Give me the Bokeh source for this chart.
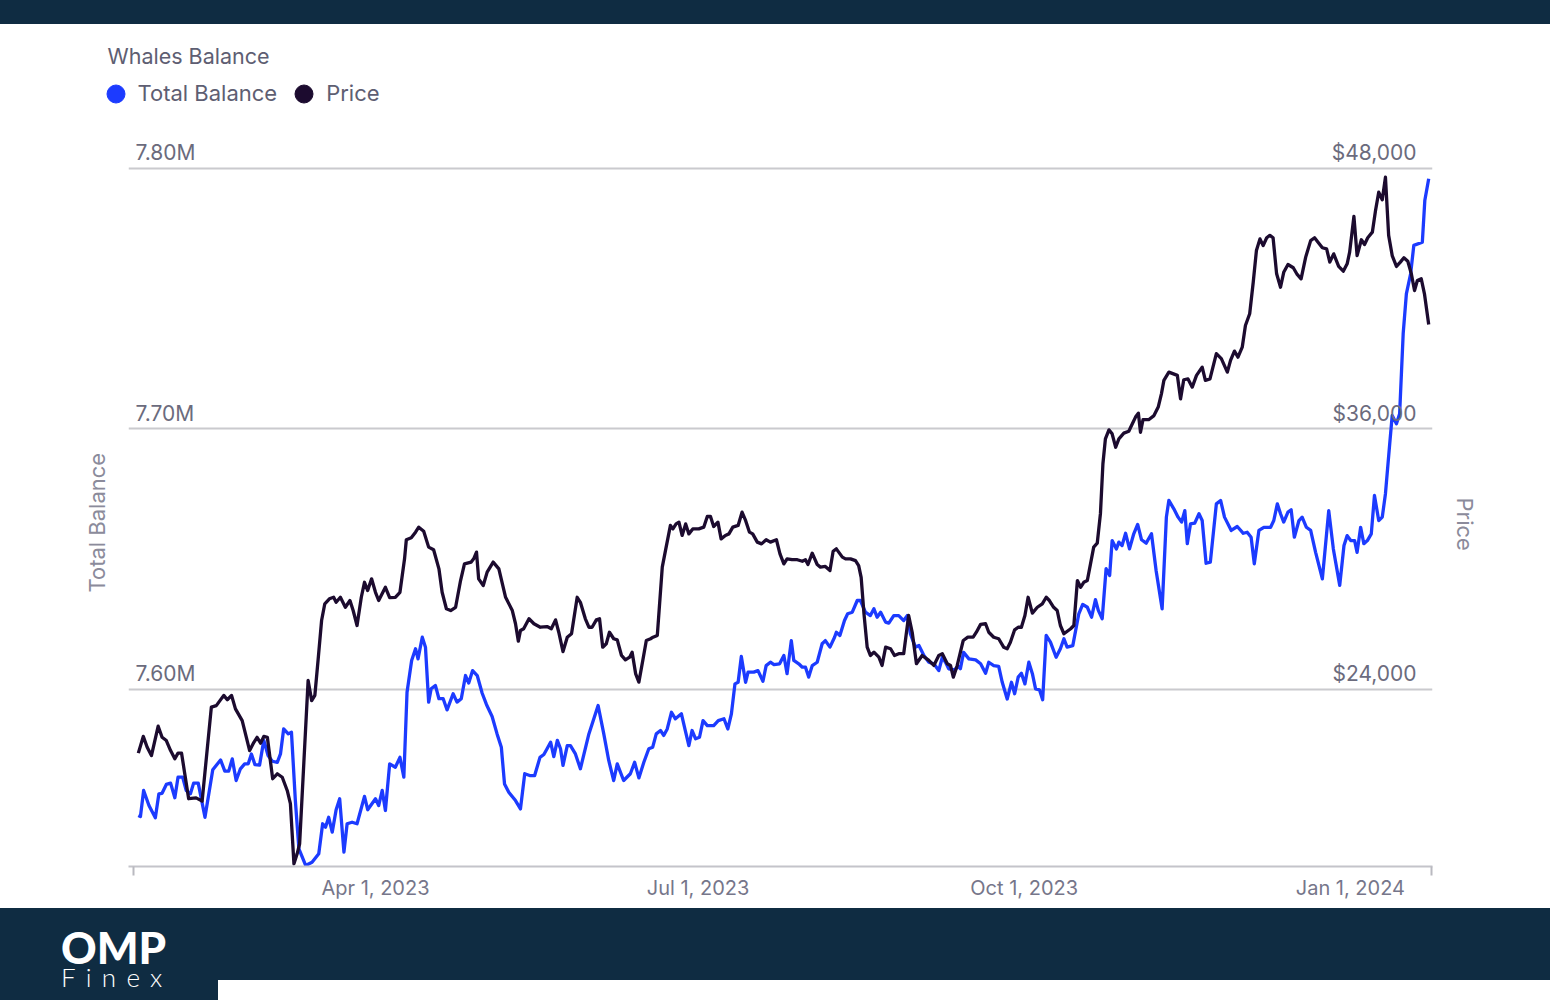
import datetime as dt
from bokeh.plotting import figure
from bokeh.models import (Range1d, FixedTicker, Legend, LegendItem, Title, Div, Grid, Label)
from bokeh.layouts import column
from bokeh.embed import file_html
from bokeh.resources import INLINE
from bokeh.core.properties import value

# ---------------- data (days counted from 2023-01-01) ----------------
BASE = dt.date(2023, 1, 1)

bal_days = [
    23.1, 23.7, 24.6, 26.1, 27.9, 28.9, 29.8, 31.0, 32.2, 33.4,
    34.3, 35.6, 36.6, 37.8, 38.7, 40.0, 41.9, 44.1, 46.3, 47.5,
    48.6, 49.6, 50.7, 51.9, 53.1, 54.1, 55.0, 56.0, 57.3, 58.5,
    59.7, 60.9, 62.3, 63.2, 64.1, 65.4, 66.3, 67.4, 68.4, 70.3,
    72.1, 74.0, 75.1, 75.9, 76.8, 77.8, 78.9, 79.9, 81.1, 82.0,
    83.4, 84.8, 86.9, 87.8, 90.0, 90.9, 91.9, 92.8, 94.0, 95.6,
    96.9, 98.0, 98.9, 100.2, 101.3, 102.0, 103.2, 104.1, 105.0, 105.7,
    106.9, 107.9, 109.1, 110.2, 111.9, 113.0, 114.2, 115.4, 116.3, 117.4,
    118.7, 120.1, 121.3, 122.9, 124.3, 125.5, 126.4, 127.6, 129.5, 130.9,
    132.1, 133.5, 134.9, 136.4, 137.5, 138.4, 139.4, 140.3, 141.3, 142.2,
    142.9, 144.1, 145.0, 146.4, 147.8, 150.2, 152.8, 154.4, 155.8, 157.2,
    158.2, 160.0, 161.9, 163.1, 164.3, 165.7, 167.1, 168.2, 169.2, 170.4,
    171.3, 172.3, 173.5, 174.6, 176.3, 177.4, 178.4, 179.3, 180.3, 181.4,
    182.4, 183.6, 185.4, 186.7, 188.3, 189.4, 190.4, 191.4, 192.3, 193.2,
    194.4, 195.1, 196.7, 197.9, 199.3, 200.2, 201.4, 202.4, 204.0, 205.2,
    206.1, 207.3, 208.0, 209.4, 210.4, 211.3, 212.2, 213.2, 214.6, 216.0,
    216.9, 218.2, 219.5, 220.0, 221.0, 222.3, 223.2, 224.5, 225.9, 226.8,
    228.2, 229.6, 230.6, 231.5, 232.5, 233.9, 234.8, 236.2, 237.6, 239.0,
    240.0, 240.9, 242.3, 243.3, 244.7, 246.1, 247.5, 248.9, 249.9, 250.8,
    251.7, 253.3, 254.5, 255.0, 255.9, 257.4, 259.3, 260.7, 262.1, 263.0,
    264.4, 265.8, 266.8, 268.2, 269.4, 270.3, 271.3, 272.2, 273.2, 274.3,
    275.3, 276.2, 277.3, 278.2, 279.2, 280.4, 282.0, 283.2, 284.2, 285.1,
    286.7, 288.4, 289.5, 290.8, 292.0, 293.1, 293.9, 295.0, 296.1, 297.1,
    297.8, 299.0, 299.7, 300.6, 301.6, 302.7, 303.9, 305.0, 306.1, 307.4,
    308.9, 310.2, 311.9, 313.1, 313.8, 315.2, 316.4, 317.4, 318.3, 319.0,
    319.9, 321.1, 322.3, 323.2, 324.3, 325.5, 327.2, 328.4, 329.5, 331.4,
    333.1, 334.8, 335.9, 337.0, 337.9, 339.2, 340.6, 342.5, 343.4, 344.4,
    345.3, 346.2, 347.4, 348.3, 349.2, 350.5, 351.4, 352.6, 353.8, 355.2,
    357.1, 358.9, 360.2, 362.0, 363.2, 364.1, 365.1, 366.2, 366.9, 367.9,
    368.8, 369.8, 370.9, 371.8, 373.0, 374.0, 374.9, 376.1, 376.8, 378.0,
    378.9, 379.9, 380.8, 382.0, 382.9, 385.3, 386.0, 387.1,
]
bal_millions = [
    7.5516, 7.5512, 7.5612, 7.5554, 7.5507, 7.5599, 7.5601, 7.5635, 7.5640, 7.5584,
    7.5663, 7.5663, 7.5612, 7.5599, 7.5640, 7.5640, 7.5509, 7.5691, 7.5729, 7.5686,
    7.5686, 7.5733, 7.5650, 7.5695, 7.5714, 7.5714, 7.5752, 7.5711, 7.5709, 7.5804,
    7.5746, 7.5724, 7.5720, 7.5752, 7.5848, 7.5829, 7.5835, 7.5573, 7.5388, 7.5324,
    7.5336, 7.5369, 7.5484, 7.5471, 7.5509, 7.5452, 7.5538, 7.5580, 7.5375, 7.5484,
    7.5490, 7.5484, 7.5589, 7.5538, 7.5580, 7.5554, 7.5612, 7.5535, 7.5714, 7.5701,
    7.5739, 7.5663, 7.5989, 7.6111, 7.6156, 7.6117, 7.6200, 7.6162, 7.5951, 7.6002,
    7.6015, 7.5964, 7.5964, 7.5921, 7.5983, 7.5951, 7.5964, 7.6053, 7.6024, 7.6072,
    7.6053, 7.5985, 7.5942, 7.5896, 7.5829, 7.5778, 7.5637, 7.5605, 7.5573, 7.5541,
    7.5676, 7.5669, 7.5669, 7.5739, 7.5750, 7.5772, 7.5797, 7.5742, 7.5804, 7.5772,
    7.5708, 7.5784, 7.5784, 7.5752, 7.5695, 7.5829, 7.5938, 7.5829, 7.5727, 7.5650,
    7.5714, 7.5650, 7.5676, 7.5720, 7.5660, 7.5720, 7.5772, 7.5778, 7.5829, 7.5842,
    7.5823, 7.5848, 7.5912, 7.5887, 7.5906, 7.5842, 7.5784, 7.5842, 7.5810, 7.5816,
    7.5880, 7.5861, 7.5861, 7.5880, 7.5887, 7.5848, 7.5906, 7.6021, 7.6027, 7.6126,
    7.6027, 7.6066, 7.6066, 7.6072, 7.6031, 7.6091, 7.6104, 7.6095, 7.6098, 7.6130,
    7.6060, 7.6187, 7.6111, 7.6098, 7.6085, 7.6085, 7.6047, 7.6091, 7.6104, 7.6175,
    7.6187, 7.6162, 7.6200, 7.6219, 7.6207, 7.6264, 7.6290, 7.6296, 7.6341, 7.6341,
    7.6296, 7.6283, 7.6309, 7.6277, 7.6296, 7.6258, 7.6254, 7.6283, 7.6283, 7.6264,
    7.6283, 7.6213, 7.6162, 7.6168, 7.6130, 7.6104, 7.6098, 7.6072, 7.6123, 7.6104,
    7.6079, 7.6075, 7.6088, 7.6079, 7.6142, 7.6117, 7.6113, 7.6098, 7.6062, 7.6104,
    7.6091, 7.6088, 7.6027, 7.5963, 7.6027, 7.5983, 7.6047, 7.6062, 7.6021, 7.6104,
    7.6060, 7.6002, 7.5998, 7.5960, 7.6207, 7.6181, 7.6123, 7.6156, 7.6194, 7.6162,
    7.6168, 7.6290, 7.6326, 7.6315, 7.6277, 7.6344, 7.6303, 7.6271, 7.6463, 7.6437,
    7.6571, 7.6539, 7.6565, 7.6552, 7.6599, 7.6539, 7.6597, 7.6633, 7.6574, 7.6561,
    7.6597, 7.6456, 7.6309, 7.6661, 7.6725, 7.6693, 7.6661, 7.6642, 7.6686, 7.6559,
    7.6635, 7.6638, 7.6674, 7.6648, 7.6484, 7.6488, 7.6712, 7.6725, 7.6661, 7.6610,
    7.6625, 7.6599, 7.6603, 7.6584, 7.6482, 7.6610, 7.6622, 7.6622, 7.6648, 7.6712,
    7.6674, 7.6642, 7.6680, 7.6689, 7.6584, 7.6648, 7.6661, 7.6622, 7.6610, 7.6526,
    7.6424, 7.6686, 7.6539, 7.6399, 7.6552, 7.6590, 7.6571, 7.6571, 7.6526, 7.6622,
    7.6559, 7.6571, 7.6597, 7.6744, 7.6648, 7.6661, 7.6751, 7.6942, 7.7051, 7.7019,
    7.7058, 7.7365, 7.7518, 7.7595, 7.7704, 7.7716, 7.7876, 7.7960,
]

price_days = [
    23.1, 24.5, 25.6, 26.8, 28.7, 29.8, 31.0, 32.2, 33.4, 34.3,
    35.3, 36.2, 37.3, 39.4, 41.1, 43.7, 45.1, 47.2, 48.2, 49.4,
    50.5, 52.4, 54.5, 55.7, 56.6, 57.6, 58.5, 59.5, 61.0, 62.3,
    63.7, 65.1, 66.0, 67.0, 67.9, 68.6, 71.0, 72.0, 72.9, 73.8,
    74.8, 75.7, 77.0, 78.2, 78.9, 80.1, 81.5, 82.8, 83.7, 84.8,
    86.0, 86.9, 87.8, 88.9, 90.0, 90.9, 92.8, 94.0, 95.6, 96.9,
    98.2, 98.7, 100.1, 101.3, 102.2, 103.6, 105.0, 106.4, 107.9, 108.8,
    110.0, 111.2, 112.6, 114.0, 115.1, 117.0, 117.7, 118.5, 119.1, 120.4,
    121.5, 123.2, 124.8, 126.7, 128.6, 129.5, 130.3, 130.9, 131.8, 133.3,
    134.7, 136.5, 138.4, 139.6, 140.8, 141.7, 142.9, 144.1, 145.3, 146.9,
    147.8, 149.2, 150.2, 151.1, 152.3, 153.2, 154.1, 155.1, 156.0, 157.2,
    158.2, 159.4, 160.5, 161.7, 162.4, 163.4, 164.3, 165.4, 166.4, 167.6,
    168.3, 169.5, 170.9, 171.8, 173.2, 173.9, 174.8, 175.6, 176.5, 177.5,
    178.4, 179.5, 181.2, 182.6, 183.6, 184.5, 185.4, 186.6, 187.5, 188.7,
    189.7, 190.8, 192.3, 193.4, 194.4, 195.5, 196.4, 197.7, 198.9, 200.2,
    201.4, 203.1, 204.1, 205.2, 206.1, 207.5, 209.0, 210.4, 211.3, 212.0,
    213.2, 214.6, 215.5, 216.9, 218.2, 219.1, 220.0, 221.7, 222.6, 224.0,
    225.4, 226.3, 227.0, 227.8, 228.7, 229.6, 230.6, 232.0, 232.9, 233.9,
    235.3, 236.4, 237.6, 239.0, 240.4, 241.4, 242.6, 244.2, 246.1, 247.5,
    248.9, 249.9, 251.3, 252.2, 253.0, 254.1, 255.8, 257.1, 258.6, 259.5,
    260.7, 262.1, 263.0, 264.4, 265.8, 267.2, 268.2, 269.1, 270.3, 271.3,
    272.2, 273.2, 274.1, 275.3, 276.7, 278.1, 279.2, 280.1, 281.3, 282.3,
    283.2, 284.2, 286.1, 287.0, 288.0, 288.9, 289.8, 290.8, 291.7, 292.6,
    293.6, 294.5, 295.2, 295.9, 296.9, 297.8, 298.8, 299.7, 301.1, 302.5,
    303.5, 304.4, 305.2, 305.8, 306.5, 308.1, 309.6, 310.8, 311.7, 312.4,
    313.8, 316.2, 317.1, 318.0, 319.2, 320.4, 321.6, 323.2, 324.1, 325.4,
    327.2, 328.6, 330.3, 331.2, 332.3, 333.3, 334.5, 335.4, 336.6, 337.6,
    338.5, 339.5, 340.4, 341.4, 342.3, 343.2, 344.2, 345.3, 346.2, 347.4,
    348.9, 350.0, 351.1, 352.4, 353.8, 354.9, 356.1, 357.1, 358.3, 359.2,
    360.3, 361.7, 363.0, 364.1, 364.8, 366.0, 366.9, 368.1, 369.0, 369.9,
    371.2, 372.1, 373.0, 374.0, 374.9, 375.8, 376.8, 378.0, 379.1, 380.1,
    381.2, 382.2, 383.1, 383.9, 385.0, 385.9, 387.1,
]
price_usd = [
    21060, 21830, 21330, 20950, 22300, 21790, 21640, 21180, 20800, 21060,
    21060, 20110, 18960, 19000, 18850, 23180, 23250, 23720, 23520, 23720,
    23100, 22560, 21180, 21560, 21790, 21520, 21830, 21790, 19880, 20110,
    19950, 19340, 18730, 15960, 16420, 16880, 24410, 23480, 23720, 25330,
    27170, 27940, 28170, 28240, 28010, 28240, 27780, 28090, 27630, 26940,
    28240, 28930, 28550, 29090, 28470, 28090, 28700, 28220, 28240, 28470,
    30010, 30890, 30980, 31240, 31470, 31280, 30550, 30430, 29550, 28470,
    27710, 27630, 27780, 29010, 29780, 29860, 30010, 30320, 29090, 28780,
    29400, 29860, 29550, 28240, 27630, 27020, 26220, 26710, 26790, 27250,
    27020, 26860, 26890, 26790, 27200, 26630, 25740, 26400, 26560, 28240,
    28010, 27250, 26860, 26860, 27200, 27250, 25940, 26100, 26630, 26330,
    26280, 25560, 25360, 25480, 25710, 24710, 24330, 25330, 26250, 26330,
    26400, 26480, 29630, 30390, 31550, 31390, 31620, 31700, 31090, 31620,
    31160, 31390, 31390, 31470, 31960, 31960, 31500, 31700, 30930, 31090,
    31160, 31470, 31550, 32160, 31780, 31240, 31160, 30780, 30700, 30890,
    30780, 30890, 30240, 29780, 30010, 29970, 29970, 29900, 29970, 29750,
    30270, 29750, 29630, 29660, 29470, 30360, 30470, 30090, 30010, 30010,
    29930, 29700, 29160, 27480, 25940, 25560, 25710, 25480, 25100, 25940,
    25870, 25560, 25640, 25640, 27400, 26630, 25180, 25560, 25330, 25100,
    25560, 25640, 25180, 25100, 24560, 25100, 26250, 26400, 26400, 26630,
    26990, 27020, 26630, 26400, 26330, 25940, 25870, 26170, 26740, 26860,
    26860, 27400, 28240, 27510, 27780, 27940, 28240, 28090, 27780, 27630,
    26940, 26560, 26790, 26940, 29010, 28700, 28930, 29010, 29780, 30550,
    30730, 32090, 34390, 35540, 35950, 35770, 35150, 35540, 35800, 35890,
    36230, 36540, 36720, 35840, 36420, 36420, 36610, 37000, 37610, 38230,
    38610, 38460, 37380, 38260, 38300, 37920, 38460, 38840, 38230, 38300,
    39460, 39230, 38610, 39150, 39580, 39300, 39760, 40760, 41300, 42750,
    44210, 44750, 44440, 44800, 44910, 44800, 43140, 42520, 43210, 43570,
    43420, 43110, 42910, 43910, 44670, 44800, 44550, 44340, 44290, 43680,
    44060, 43480, 43260, 43600, 44140, 45780, 43980, 44710, 44490, 44800,
    45060, 46060, 46900, 46550, 47590, 44910, 43980, 43480, 43680, 43880,
    43720, 43140, 42370, 42830, 42910, 42220, 40810,
]

bal_ticks = [7.60, 7.70, 7.80]
price_ticks = [24000, 36000, 48000]
x_tick_dates = [dt.date(2023, 4, 1), dt.date(2023, 7, 1), dt.date(2023, 10, 1), dt.date(2024, 1, 1)]

series_names = ["Total Balance", "Price"]
chart_title = "Whales Balance"

# ---------------- styling ----------------
BLUE = "#1c3bff"
DARK = "#1c0b2f"
NAVY = "#0f2c42"
GRID = "#cacace"
LABEL = "#6b6b7d"
FONT = "Inter"

X_START, X_END = 20.33, 388.17
BAL_RANGE = (7.532, 7.8145)
PRICE_RANGE = (15838, 49742)

x_ticks = [(d - BASE).days for d in x_tick_dates]
x_labels = {t: f"{d:%b} {d.day}, {d.year}" for t, d in zip(x_ticks, x_tick_dates)}

# ---------------- header: title + legend ----------------
HDR_H = 106
hdr = figure(width=1550, height=HDR_H, output_backend="svg", toolbar_location=None,
             x_range=Range1d(0, 1), y_range=Range1d(0, 1),
             x_axis_location=None, y_axis_location=None, min_border=0)
hdr.frame_align = False
hdr.outline_line_color = None
hdr.grid.visible = False
hdr.add_layout(Label(x=107, y=HDR_H - 31, x_units="screen", y_units="screen", text=chart_title,
                     text_align="left", text_baseline="middle", text_font=FONT,
                     text_font_size="21.5px", text_color="#5e5e72"))
# legend swatches (no visible points of their own)
nan = float("nan")
dot_bal = hdr.scatter(x=[nan], y=[nan], marker="circle", fill_color=BLUE, line_color=BLUE)
dot_price = hdr.scatter(x=[nan], y=[nan], marker="circle", fill_color=DARK, line_color=DARK)
legend = Legend(items=[LegendItem(label=series_names[0], renderers=[dot_bal]),
                       LegendItem(label=series_names[1], renderers=[dot_price])],
                orientation="horizontal", location=(92.5, 14.5),
                glyph_width=45, glyph_height=45, label_standoff=0, spacing=4,
                padding=0, margin=0, border_line_color=None, background_fill_alpha=0,
                label_text_font=FONT, label_text_font_size="22px", label_text_color="#5e5e72")
hdr.add_layout(legend, "center")

# ---------------- main chart ----------------
p = figure(width=1550, height=778, output_backend="svg", toolbar_location=None,
           x_range=Range1d(X_START, X_END), y_range=Range1d(*BAL_RANGE),
           y_axis_location=None,
           min_border_left=128, min_border_right=118, min_border_top=0, min_border_bottom=42)
p.frame_align = False
p.extra_y_ranges = {"price": Range1d(*PRICE_RANGE)}
p.outline_line_color = None
p.background_fill_color = "white"
p.border_fill_color = "white"

for g in p.grid:
    g.visible = False
p.add_layout(Grid(dimension=1, ticker=FixedTicker(ticks=bal_ticks),
                  grid_line_color=GRID, grid_line_width=2))

xa = p.xaxis[0]
xa.ticker = FixedTicker(ticks=x_ticks, minor_ticks=[21.74, 388.0])
xa.major_label_overrides = x_labels
xa.major_tick_out = 0
xa.major_tick_in = 0
xa.minor_tick_out = 9
xa.minor_tick_in = 0
xa.minor_tick_line_color = "#b9b9c0"
xa.minor_tick_line_width = 2
xa.axis_line_color = "#c4c4ca"
xa.axis_line_width = 2
xa.major_label_text_font = FONT
xa.major_label_text_font_size = "20px"
xa.major_label_text_color = "#76768a"
xa.major_label_standoff = 0

r_bal = p.line(bal_days, bal_millions, line_color=BLUE, line_width=3.3, line_join="round")
r_price = p.line(price_days, price_usd, y_range_name="price", line_color=DARK,
                 line_width=3.3, line_join="round")

p.text(x=[X_START] * len(bal_ticks), y=bal_ticks, text=[f"{t:.2f}M" for t in bal_ticks],
       x_offset=7, y_offset=-3, text_align="left", text_baseline="bottom",
       text_font=value(FONT), text_font_size="21px", text_color=LABEL)
p.text(x=[X_END] * len(price_ticks), y=price_ticks, y_range_name="price",
       text=[f"${t:,.0f}" for t in price_ticks],
       x_offset=-16, y_offset=-3, text_align="right", text_baseline="bottom",
       text_font=value(FONT), text_font_size="21px", text_color=LABEL)

p.add_layout(Title(text="Total Balance", align="left", offset=274, vertical_align="bottom",
                   standoff=38, text_font=FONT, text_font_size="22px",
                   text_font_style="normal", text_color="#8b8b9b"), "left")
p.add_layout(Title(text="Price", align="left", offset=367, vertical_align="bottom",
                   standoff=38, text_font=FONT, text_font_size="22px",
                   text_font_style="normal", text_color="#8b8b9b"), "right")

# ---------------- frame bands ----------------
top = Div(width=1550, height=24, margin=0, styles={"background-color": NAVY})
bottom_html = (
    '<div style="position:relative;width:1550px;height:92px;">'
    f'<div style="position:absolute;left:0;top:0;width:1550px;height:72px;background:{NAVY};"></div>'
    f'<div style="position:absolute;left:0;top:72px;width:218px;height:20px;background:{NAVY};"></div>'
    '<div style="position:absolute;left:61px;top:23px;font-family:Lato;font-weight:900;'
    'font-size:44px;line-height:32px;height:32px;color:#ffffff;">OMP</div>'
    '<div style="position:absolute;left:61px;top:58px;font-family:Lato;font-weight:300;'
    'font-size:26px;line-height:22px;height:22px;letter-spacing:10.25px;color:#ffffff;">Finex</div>'
    '</div>'
)
bottom = Div(width=1550, height=92, margin=0, text=bottom_html)

layout = column(top, hdr, p, bottom, spacing=0)
open("out.html", "w").write(file_html(layout, INLINE))
